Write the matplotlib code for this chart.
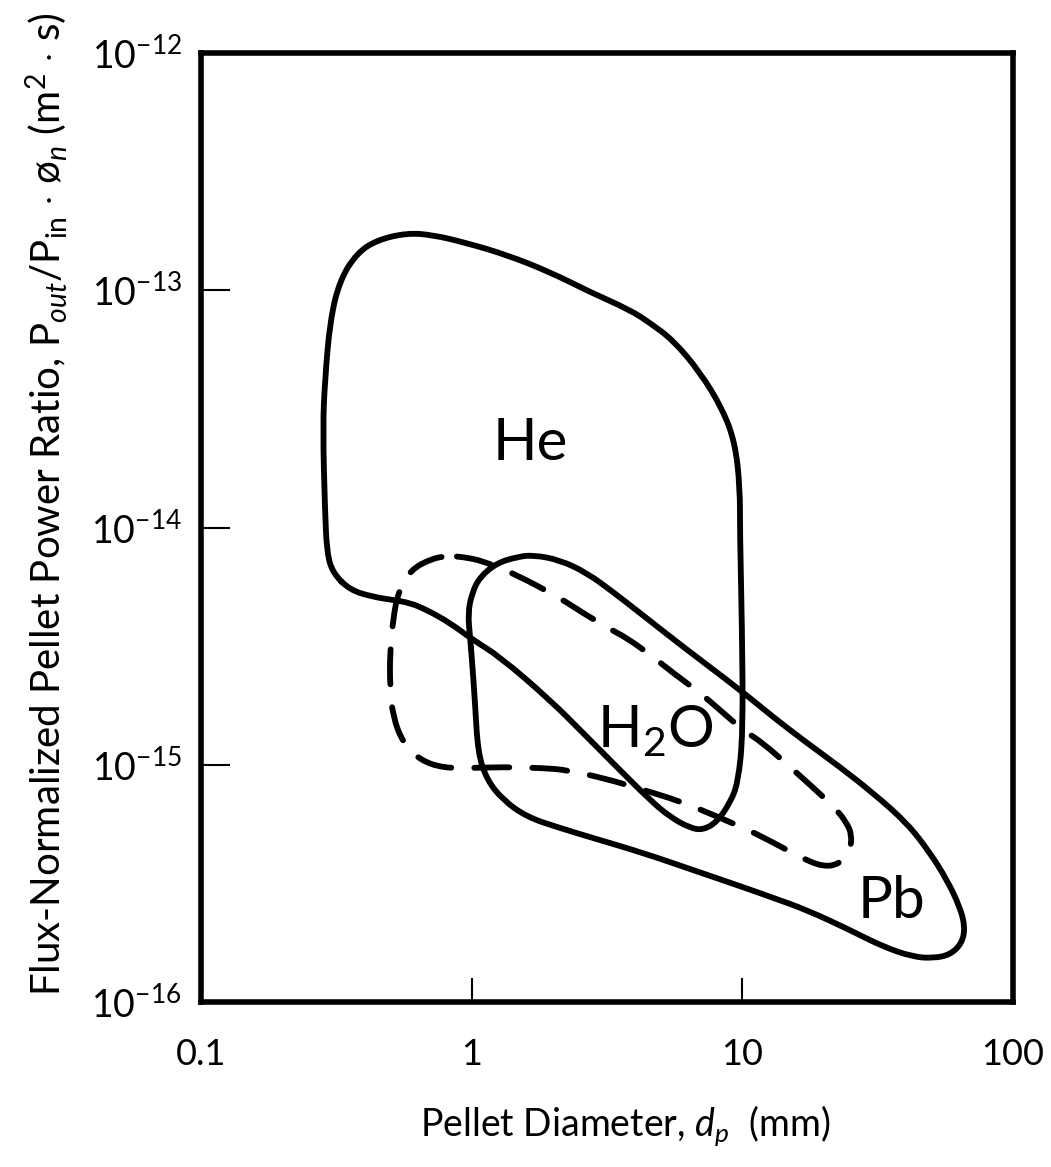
import numpy as np
import matplotlib
matplotlib.use("Agg")
import matplotlib.pyplot as plt
from matplotlib.path import Path
from matplotlib.patches import PathPatch
from matplotlib.ticker import FixedLocator, FixedFormatter, NullLocator

# ---------------- data (pellet diameter in mm, flux-normalized ratio) -------------
he_d = [0.307, 0.292, 0.287, 0.282, 0.287, 0.300, 0.326, 0.377, 0.447, 0.577, 0.720,
        0.961, 1.35, 1.947, 2.736, 3.846, 4.56, 5.54, 6.98, 8.48, 9.40, 9.80, 9.80,
        9.97, 10.06, 9.64, 9.00, 8.06, 7.16, 6.41, 5.41, 4.56, 3.44, 2.58, 1.947,
        1.273, 1.011, 0.832, 0.684, 0.592, 0.512, 0.432, 0.355]
he_r = [6.43e-15, 7.81e-15, 1.185e-14, 2.65e-14, 4.18e-14, 7.49e-14, 1.105e-13,
        1.435e-13, 1.628e-13, 1.743e-13, 1.71e-13, 1.58e-13, 1.408e-13, 1.193e-13,
        9.83e-14, 8.26e-14, 7.28e-14, 6.17e-14, 4.52e-14, 3.13e-14, 2.27e-14, 1.48e-14,
        9.48e-15, 3.81e-15, 1.361e-15, 8.38e-16, 6.90e-16, 5.74e-16, 5.31e-16, 5.41e-16,
        6.02e-16, 7.10e-16, 9.78e-16, 1.361e-15, 1.875e-15, 2.85e-15, 3.36e-15,
        3.96e-15, 4.49e-15, 4.81e-15, 4.95e-15, 5.10e-15, 5.45e-15]

pb_d = [0.986, 0.969, 1.003, 1.073, 1.241, 1.471, 1.685, 2.12, 2.668, 3.327, 4.19,
        6.04, 9.80, 12.98, 17.34, 22.95, 30.4, 40.6, 49.4, 57.0, 63.7, 66.5, 64.8,
        58.5, 50.6, 42.7, 33.1, 25.0, 17.34, 12.98, 9.80, 6.57, 4.30, 2.81, 2.12,
        1.601, 1.306, 1.139, 1.055, 1.029, 1.003]
pb_r = [3.46e-15, 4.36e-15, 5.30e-15, 6.19e-15, 7.09e-15, 7.51e-15, 7.66e-15,
        7.29e-15, 6.43e-15, 5.35e-15, 4.36e-15, 3.14e-15, 2.07e-15, 1.59e-15,
        1.235e-15, 9.78e-16, 7.60e-16, 5.68e-16, 4.25e-16, 3.27e-16, 2.51e-16,
        2.07e-16, 1.77e-16, 1.58e-16, 1.53e-16, 1.55e-16, 1.71e-16, 2.01e-16,
        2.44e-16, 2.75e-16, 3.08e-16, 3.60e-16, 4.25e-16, 4.91e-16, 5.41e-16,
        6.02e-16, 7.10e-16, 8.63e-16, 1.12e-15, 1.82e-15, 2.76e-15]

h2o_d = [0.720, 0.592, 0.534, 0.512, 0.499, 0.499, 0.512, 0.558, 0.644, 0.784,
         1.011, 1.306, 1.835, 2.25, 3.16, 4.08, 5.41, 6.80, 9.56, 11.92, 16.33,
         19.86, 22.95, 25.0, 25.4, 24.2, 22.0, 17.34, 15.0, 11.92, 10.06, 8.27,
         6.98, 5.54, 4.68, 3.75, 3.24, 2.58, 2.12, 1.471, 1.101, 0.929, 0.832]
h2o_r = [7.44e-15, 6.62e-15, 5.30e-15, 4.07e-15, 2.96e-15, 2.13e-15, 1.59e-15,
         1.235e-15, 1.047e-15, 9.69e-16, 9.69e-16, 9.78e-16, 9.69e-16, 9.50e-16,
         8.71e-16, 7.98e-16, 7.24e-16, 6.57e-16, 5.57e-16, 4.96e-16, 4.08e-16,
         3.71e-16, 3.82e-16, 4.37e-16, 5.06e-16, 5.74e-16, 6.57e-16, 8.46e-16,
         9.78e-16, 1.235e-15, 1.40e-15, 1.70e-15, 2.01e-15, 2.44e-15, 2.85e-15,
         3.42e-15, 3.73e-15, 4.36e-15, 5.04e-15, 6.31e-15, 7.23e-15, 7.51e-15, 7.58e-15]

x_ticks = [0.1, 1, 10, 100]
x_ticklabels = ["0.1", "1", "10", "100"]
y_ticks = [1e-16, 1e-15, 1e-14, 1e-13, 1e-12]
y_ticklabels = [r"$10^{-16}$", r"$10^{-15}$", r"$10^{-14}$", r"$10^{-13}$", r"$10^{-12}$"]

# ---------------- style ----------------
plt.rcParams["font.family"] = ["Lato", "DejaVu Sans"]
plt.rcParams["font.weight"] = "normal"
plt.rcParams["mathtext.fontset"] = "custom"
plt.rcParams["mathtext.rm"] = "Lato"
plt.rcParams["mathtext.it"] = "Lato:italic"
plt.rcParams["mathtext.bf"] = "Lato:bold"
plt.rcParams["mathtext.sf"] = "Lato"

W, H = 1051, 1167
fig = plt.figure(figsize=(W / 100, H / 100), dpi=100)
L, R, T, B = 201, 1013, 53, 1002
ax = fig.add_axes([L / W, 1 - B / H, (R - L) / W, (B - T) / H])
ax.set_xscale("log")
ax.set_yscale("log")
ax.set_xlim(0.1, 100)
ax.set_ylim(1e-16, 1e-12)

lw = 4.2


def smooth_loop(xs, ys, **kw):
    """Closed loop drawn as quadratic Bezier path through the read points
    (points act as control points, segment joins at their log-midpoints)."""
    lx = np.log10(np.asarray(xs, float))
    ly = np.log10(np.asarray(ys, float))
    mx = (lx + np.roll(lx, -1)) / 2
    my = (ly + np.roll(ly, -1)) / 2
    verts = [(mx[-1], my[-1])]
    codes = [Path.MOVETO]
    for i in range(len(lx)):
        verts += [(lx[i], ly[i]), (mx[i], my[i])]
        codes += [Path.CURVE3, Path.CURVE3]
    v = 10 ** np.array(verts)
    patch = PathPatch(Path(v, codes), fill=False, transform=ax.transData, **kw)
    ax.add_patch(patch)


smooth_loop(he_d, he_r, edgecolor="black", lw=lw, joinstyle="round", capstyle="round")
smooth_loop(pb_d, pb_r, edgecolor="black", lw=lw, joinstyle="round", capstyle="round")
smooth_loop(h2o_d, h2o_r, edgecolor="black", lw=lw, linestyle=(0, (6.0, 3.95)),
            joinstyle="round", capstyle="round")

lab_kw = dict(fontsize=42, ha="center", va="baseline")
ax.text(1.643, 1.93e-14, "He", **lab_kw)
ax.text(4.76, 1.188e-15, r"H$_2$O", **lab_kw)
ax.text(35.7, 2.26e-16, "Pb", **lab_kw)

for s in ax.spines.values():
    s.set_linewidth(4)
ax.xaxis.set_major_locator(FixedLocator(x_ticks))
ax.xaxis.set_major_formatter(FixedFormatter(x_ticklabels))
ax.yaxis.set_major_locator(FixedLocator(y_ticks))
ax.yaxis.set_major_formatter(FixedFormatter(y_ticklabels))
ax.xaxis.set_minor_locator(NullLocator())
ax.yaxis.set_minor_locator(NullLocator())
ax.tick_params(axis="x", direction="in", length=17, width=1.5, pad=26, labelsize=26)
ax.tick_params(axis="y", direction="in", length=21, width=1.5, pad=14, labelsize=27)

fig.text(625 / W, 1 - 1126 / H, r"Pellet Diameter, $d_p$  (mm)", fontsize=27,
         ha="center", va="center")
fig.text(47 / W, 1 - 504 / H,
         r"Flux-Normalized Pellet Power Ratio, P$_{out}$/P$_{\mathrm{in}}$ $\cdot$ ø$_n$ (m$^2$ $\cdot$ s)",
         fontsize=29, rotation=90, ha="center", va="center")

fig.savefig("out.png", dpi=100)
